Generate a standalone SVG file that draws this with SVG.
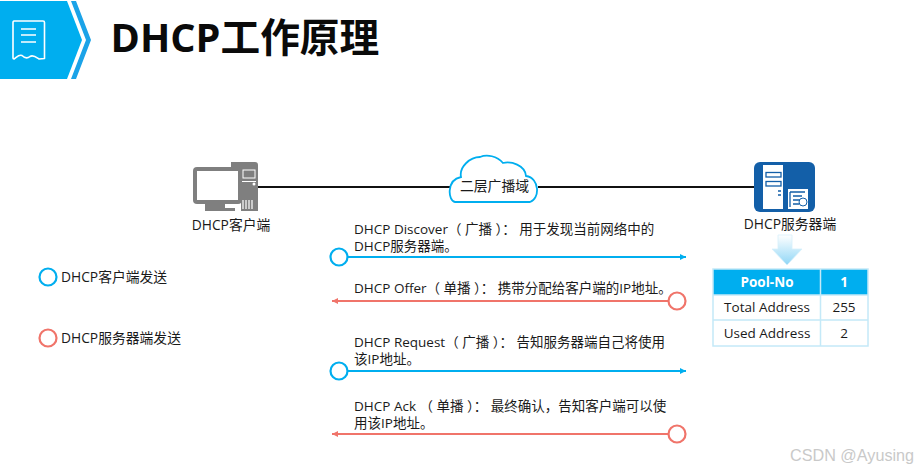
<svg xmlns="http://www.w3.org/2000/svg" width="918" height="471" viewBox="0 0 918 471">
<style>
text{font-family:"Open Sans","Noto Sans CJK SC","Noto Sans",sans-serif;font-size:13.500px;fill:#1a1a1a}
.c{text-anchor:middle}
.lg{font-size:13.800px}
.blue{stroke:#00aeef;fill:none}
.red{stroke:#f0746a;fill:none}
.ring{stroke-width:2.200;fill:#fff}
.ln{stroke-width:2}
.th{fill:#fff;font-weight:700;font-size:13.500px}
.grid{stroke:#c4e9f8;stroke-width:1.500;fill:none}
</style>
<defs>
<marker id="ab" markerUnits="userSpaceOnUse" markerWidth="7" markerHeight="6" refX="6" refY="3" orient="auto"><path d="M0 0L6 3L0 6z" fill="#00aeef"/></marker>
<marker id="ar" markerUnits="userSpaceOnUse" markerWidth="7" markerHeight="6" refX="6" refY="3" orient="auto"><path d="M0 0L6 3L0 6z" fill="#f0746a"/></marker>
<linearGradient id="down" x1="0" y1="0" x2="0" y2="1"><stop offset="0" stop-color="#fff"/><stop offset="1" stop-color="#8fd6f6"/></linearGradient>
</defs>
<rect width="918" height="471" fill="#fff"/>
<g id="header">
<path d="M0 1H67L82 40L67 79H0z" fill="#00aeef"/>
<path d="M71 1H76L91 40L76 79H71L86 40z" fill="#1ba3e8"/>
<g fill="none" stroke="#fff" stroke-width="1.600" stroke-linejoin="round">
<path d="M14 21H43a1.500 1.500 0 0 1 1.500 1.500V58.500L39 59C36 57 33 54.500 30 56.500C27 59 24 57.500 22 55.500C19 54 17 57 14 59a1 1 0 0 1-1-1V22.500a1.500 1.500 0 0 1 1-1.500z"/>
<path d="M21 29H36M21 35H36M21 42H36"/>
</g>
<text x="110.500" y="52" style="font-size:39.700px;font-weight:700;fill:#0a0a0a">DHCP工作原理</text>
</g>
<g id="connectors">
<path d="M257 187H450M538 187H755" stroke="#111" stroke-width="2" fill="none"/>
<path class="blue ln" d="M348 257H686" marker-end="url(#ab)"/>
<path class="red ln" d="M668 301H332" marker-end="url(#ar)"/>
<path class="blue ln" d="M348 371H686" marker-end="url(#ab)"/>
<path class="red ln" d="M668 434H332" marker-end="url(#ar)"/>
<circle class="blue ring" cx="339" cy="257" r="8.500"/>
<circle class="red ring" cx="677" cy="301" r="8.500"/>
<circle class="blue ring" cx="339" cy="371" r="8.500"/>
<circle class="red ring" cx="677" cy="434" r="8.500"/>
</g>
<g id="client">
<path d="M231 162H255a3 3 0 0 1 3 3V211H241V176a6 6 0 0 0-6-6H231z" fill="#7f7f7f"/>
<rect x="193" y="167" width="49" height="37" rx="4" fill="#7f7f7f"/>
<rect x="197" y="171" width="41" height="29" fill="#fff"/>
<path d="M205 204H225V208H235V211H205z" fill="#7f7f7f"/>
<rect x="243" y="170" width="12" height="8" fill="none" stroke="#fff" stroke-width="1"/>
<rect x="242" y="181" width="14" height="1" fill="#fff"/>
<circle cx="254" cy="184" r="1.500" fill="#fff"/>
<path d="M243 200V209M246 200V209M249 200V209M252 200V209" stroke="#fff" stroke-width="1.200"/>
<text class="c lg" x="231" y="230">DHCP客户端</text>
</g>
<g id="cloud">
<path d="M455 202C448 201 446 180 461 177C459 167 470 157 480 157C487 154 497 156 503 163C511 161 525 165 526 176C540 178 540 199 530 202z" fill="#fff" stroke="#00aeef" stroke-width="1.800"/>
<text class="c lg" x="494.500" y="191">二层广播域</text>
</g>
<g id="server">
<rect x="754" y="162" width="61" height="50" rx="6" fill="#135fa8"/>
<rect x="763" y="165" width="20" height="44" fill="#fff"/>
<rect x="766" y="172.500" width="15" height="4.500" fill="#fff" stroke="#135fa8" stroke-width="1.300"/>
<rect x="766" y="181.500" width="15" height="4.500" fill="#fff" stroke="#135fa8" stroke-width="1.300"/>
<path d="M778 191H781M778 195H781" stroke="#135fa8" stroke-width="1.500"/>
<rect x="788" y="189" width="20" height="20" fill="#fff"/>
<path d="M790 192H805M790 192V207M793 196H802M793 200H800M793 204H799" stroke="#135fa8" stroke-width="1.300" fill="none"/>
<circle cx="803" cy="202" r="4" fill="#fff" stroke="#135fa8"/>
<text class="c lg" x="790" y="229">DHCP服务器端</text>
</g>
<g id="arrow-down">
<path d="M778 235H792V249H802L787 265L772 249H778z" fill="url(#down)" stroke="#d7f0fb" stroke-width=".8"/>
</g>
<g id="pool-table">
<rect x="713" y="269" width="155" height="26" fill="#00aeef"/>
<rect class="grid" x="713" y="269" width="155" height="77"/>
<path class="grid" d="M713 295H868M713 320H868M820.500 269V346"/>
<text class="c th" x="767" y="287">Pool-No</text>
<text class="c th" x="844" y="287">1</text>
<text class="c" x="767" y="312">Total Address</text>
<text class="c" x="844" y="312">255</text>
<text class="c" x="767" y="338">Used Address</text>
<text class="c" x="844" y="338">2</text>
</g>
<g id="msg-discover">
<text x="354" y="234">DHCP Discover（ 广播 ）： 用于发现当前网络中的</text>
<text x="354" y="251">DHCP服务器端。</text>
</g>
<g id="msg-offer">
<text x="354" y="293">DHCP Offer（ 单播 ）： 携带分配给客户端的IP地址。</text>
</g>
<g id="msg-request">
<text x="354" y="347">DHCP Request（ 广播 ）： 告知服务器端自己将使用</text>
<text x="354" y="364">该IP地址。</text>
</g>
<g id="msg-ack">
<text x="354" y="411">DHCP Ack （ 单播 ）： 最终确认，告知客户端可以使</text>
<text x="354" y="428">用该IP地址。</text>
</g>
<g id="legend-client">
<circle class="blue" stroke-width="2.200" cx="48" cy="277" r="8.500"/>
<text class="lg" x="61" y="282">DHCP客户端发送</text>
</g>
<g id="legend-server">
<circle class="red" stroke-width="2.200" cx="48" cy="338" r="8.500"/>
<text class="lg" x="61" y="343">DHCP服务器端发送</text>
</g>
<text x="790" y="461" style="font-family:'Liberation Sans',sans-serif;font-size:16.200px;fill:#c9c9c9">CSDN @Ayusing</text>
</svg>
